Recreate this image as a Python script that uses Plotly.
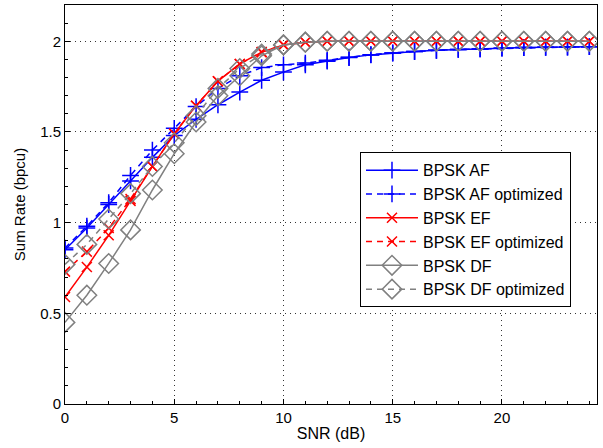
import plotly.graph_objects as go

snr = list(range(0, 25))

af = [0.85, 0.97, 1.10, 1.23, 1.36, 1.48, 1.57, 1.65, 1.72, 1.785, 1.83, 1.87, 1.89, 1.91, 1.925,
      1.935, 1.943, 1.95, 1.955, 1.958, 1.962, 1.965, 1.967, 1.968, 1.97]
af_opt = [0.86, 0.98, 1.11, 1.26, 1.40, 1.52, 1.64, 1.74, 1.81, 1.855, 1.87, 1.88, 1.895, 1.912, 1.926,
          1.936, 1.944, 1.95, 1.955, 1.958, 1.962, 1.965, 1.967, 1.968, 1.97]
ef = [0.59, 0.755, 0.93, 1.12, 1.31, 1.49, 1.645, 1.78, 1.875, 1.94, 1.98, 1.995, 2.0, 2.0, 2.0,
      2.0, 2.0, 2.0, 2.0, 2.0, 2.0, 2.0, 2.0, 2.0, 2.0]
ef_opt = [0.73, 0.84, 0.97, 1.13, 1.31, 1.49, 1.645, 1.78, 1.875, 1.94, 1.98, 1.995, 2.0, 2.0, 2.0,
          2.0, 2.0, 2.0, 2.0, 2.0, 2.0, 2.0, 2.0, 2.0, 2.0]
df = [0.45, 0.60, 0.775, 0.96, 1.18, 1.38, 1.555, 1.70, 1.81, 1.92, 1.98, 1.995, 2.0, 2.0, 2.0,
      2.0, 2.0, 2.0, 2.0, 2.0, 2.0, 2.0, 2.0, 2.0, 2.0]
df_opt = [0.77, 0.88, 1.02, 1.16, 1.31, 1.44, 1.59, 1.74, 1.85, 1.93, 1.98, 1.995, 2.0, 2.0, 2.0,
          2.0, 2.0, 2.0, 2.0, 2.0, 2.0, 2.0, 2.0, 2.0, 2.0]

x_ticks = [0, 5, 10, 15, 20]
y_ticks = [0, 0.5, 1, 1.5, 2]
y_tick_labels = ["0", "0.5", "1", "1.5", "2"]

BLUE = "#0000ff"
RED = "#ff0000"
GRAY = "#808080"
FONT = "Liberation Sans, Arial, sans-serif"

series = [
    ("BPSK AF", af, BLUE, "solid", "cross-thin", 12),
    ("BPSK AF optimized", af_opt, BLUE, "6px,5px", "cross-thin", 12),
    ("BPSK EF", ef, RED, "solid", "x-thin", 10),
    ("BPSK EF optimized", ef_opt, RED, "6px,5px", "x-thin", 10),
    ("BPSK DF", df, GRAY, "solid", "diamond-open", 15),
    ("BPSK DF optimized", df_opt, GRAY, "6px,5px", "diamond-open", 15),
]

fig = go.Figure()
for name, vals, col, dash, sym, size in series:
    fig.add_trace(go.Scatter(
        x=snr, y=vals, name=name, mode="lines+markers",
        line=dict(color=col, width=1.5, dash=dash),
        marker=dict(symbol=sym, size=size, color=col, line=dict(color=col, width=1.5)),
    ))

axis_common = dict(
    showline=True, linecolor="black", linewidth=1, mirror=True,
    ticks="inside", ticklen=5, tickcolor="black",
    showgrid=True, gridcolor="#333333", griddash="1px,4px", gridwidth=1,
    zeroline=False, automargin=False,
    tickfont=dict(family=FONT, size=15, color="black"),
)

fig.update_xaxes(
    range=[0, 24.35], tickvals=x_ticks, ticktext=[str(v) for v in x_ticks],
    title=dict(text="SNR (dB)", font=dict(family=FONT, size=16, color="black"), standoff=2),
    minor=dict(ticks="inside", ticklen=3, dtick=1, tickcolor="black", showgrid=False),
    **axis_common,
)
fig.update_yaxes(
    range=[0, 2.2], tickvals=y_ticks, ticktext=y_tick_labels,
    title=dict(text="Sum Rate (bpcu)", font=dict(family=FONT, size=15, color="black"), standoff=10),
    minor=dict(ticks="inside", ticklen=3, dtick=0.1, tickcolor="black", showgrid=False),
    **axis_common,
)

fig.update_layout(
    width=603, height=448,
    margin=dict(l=65, r=6, t=5, b=44),
    paper_bgcolor="white", plot_bgcolor="white",
    showlegend=True,
    legend=dict(
        x=0.5545, y=0.631, xanchor="left", yanchor="top",
        bgcolor="white", bordercolor="black", borderwidth=1,
        font=dict(family=FONT, size=16, color="black"),
        tracegroupgap=0, itemwidth=52,
    ),
)

fig.write_html("out.html", config={"displayModeBar": False},
               post_script="document.body.style.margin='0';")
